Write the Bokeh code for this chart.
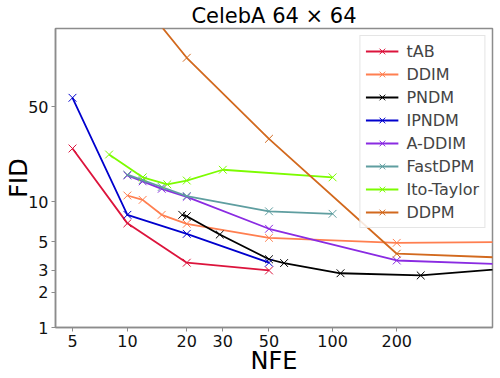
import numpy as np
from bokeh.plotting import figure
from bokeh.models import FixedTicker, Range1d
from bokeh.embed import file_html
from bokeh.resources import INLINE

# ---- data ----
x_ticks = [5, 10, 20, 30, 50, 100, 200]
y_ticks = [1, 2, 3, 5, 10, 50]

tab_nfe = [5, 10, 20, 50]
tab_fid = [24.8, 6.9, 3.45, 3.0]

ddim_nfe = [10, 12, 15, 20, 50, 200, 1000]
ddim_fid = [11.15, 10.35, 8.0, 6.85, 5.36, 4.91, 5.0]

pndm_nfe = [19, 20, 29, 50, 59, 109, 259, 1009]
pndm_fid = [8.0, 7.8, 5.68, 3.67, 3.43, 2.85, 2.74, 3.3]

ipndm_nfe = [5, 10, 20, 50]
ipndm_fid = [58.3, 8.0, 5.75, 3.45]

addim_nfe = [10, 12, 15, 20, 50, 200, 1000]
addim_fid = [15.7, 14.2, 12.5, 10.9, 6.28, 3.59, 3.27]

fastdpm_nfe = [10, 12, 15, 20, 50, 100]
fastdpm_fid = [15.9, 14.5, 12.9, 11.05, 8.5, 8.14]

ito_nfe = [8, 12, 16, 20, 30, 100]
ito_fid = [22.4, 15.2, 13.5, 14.4, 17.3, 15.2]

ddpm_nfe = [10, 20, 50, 200, 1000]
ddpm_fid = [390.0, 114.2, 29.2, 4.05, 3.67]

series = [
    ("tAB", tab_nfe, tab_fid, "#dc143c"),
    ("DDIM", ddim_nfe, ddim_fid, "#ff7f50"),
    ("PNDM", pndm_nfe, pndm_fid, "#000000"),
    ("IPNDM", ipndm_nfe, ipndm_fid, "#0000cd"),
    ("A-DDIM", addim_nfe, addim_fid, "#8a2be2"),
    ("FastDPM", fastdpm_nfe, fastdpm_fid, "#5f9ea0"),
    ("Ito-Taylor", ito_nfe, ito_fid, "#7cfc00"),
    ("DDPM", ddpm_nfe, ddpm_fid, "#d2691e"),
]

# ---- scale (shifted log on both axes, as in the reference) ----
X_SHIFT = 1.25
Y_SHIFT = 0.25


def tx(v):
    return np.log10(np.asarray(v, dtype=float) + X_SHIFT)


def ty(v):
    return np.log10(np.asarray(v, dtype=float) + Y_SHIFT)


x_lim = (3.96, 560.0)
y_lim = (1.0, 186.6)

FONT = "DejaVu Sans"
AX_COL = "#8c8c8c"

p = figure(width=500, height=378, output_backend="svg", toolbar_location=None,
           x_range=Range1d(float(tx(x_lim[0])), float(tx(x_lim[1]))),
           y_range=Range1d(float(ty(y_lim[0])), float(ty(y_lim[1]))),
           title="CelebA 64 × 64",
           min_border_left=55, min_border_right=8, min_border_top=28,
           min_border_bottom=51)

p.title.text_font = FONT
p.title.text_font_size = "21px"
p.title.text_font_style = "normal"
p.title.text_color = "#000000"
p.title.align = "center"
p.title.standoff = 2

p.grid.visible = False
p.outline_line_color = AX_COL
p.outline_line_width = 1.5

p.xaxis.ticker = FixedTicker(ticks=[float(t) for t in tx(x_ticks)])
p.xaxis.major_label_overrides = {float(t): str(v) for t, v in zip(tx(x_ticks), x_ticks)}
p.yaxis.ticker = FixedTicker(ticks=[float(t) for t in ty(y_ticks)])
p.yaxis.major_label_overrides = {float(t): str(v) for t, v in zip(ty(y_ticks), y_ticks)}

for ax in (p.xaxis, p.yaxis):
    ax.axis_line_color = AX_COL
    ax.axis_line_width = 1.5
    ax.major_tick_line_color = AX_COL
    ax.major_tick_out = 4
    ax.major_tick_in = 0
    ax.minor_tick_line_color = None
    ax.major_label_text_font = FONT
    ax.major_label_text_font_size = "16px"
    ax.major_label_text_color = "#111111"
    ax.major_label_standoff = 3
    ax.axis_label_text_font = FONT
    ax.axis_label_text_font_size = "24px"
    ax.axis_label_text_font_style = "normal"
    ax.axis_label_text_color = "#000000"

p.xaxis.axis_label = "NFE"
p.yaxis.axis_label = "FID"
p.xaxis.axis_label_standoff = -3
p.yaxis.axis_label_standoff = -8

for name, nfe, fid, col in series:
    xs = tx(nfe)
    ys = ty(fid)
    p.line(xs, ys, line_color=col, line_width=1.8, legend_label=name)
    p.scatter(xs, ys, marker="x", size=11, line_color=col, line_width=1.0,
              legend_label=name)

lg = p.legend[0]
lg.location = "top_right"
lg.margin = 7
lg.padding = 5
lg.spacing = 3
lg.label_text_font = FONT
lg.label_text_font_size = "16px"
lg.label_height = 20
lg.glyph_height = 20
lg.glyph_width = 33
lg.label_standoff = 8
lg.border_line_color = "#cccccc"
lg.border_line_width = 1
lg.background_fill_alpha = 0.85

open("out.html", "w").write(file_html(p, INLINE))
